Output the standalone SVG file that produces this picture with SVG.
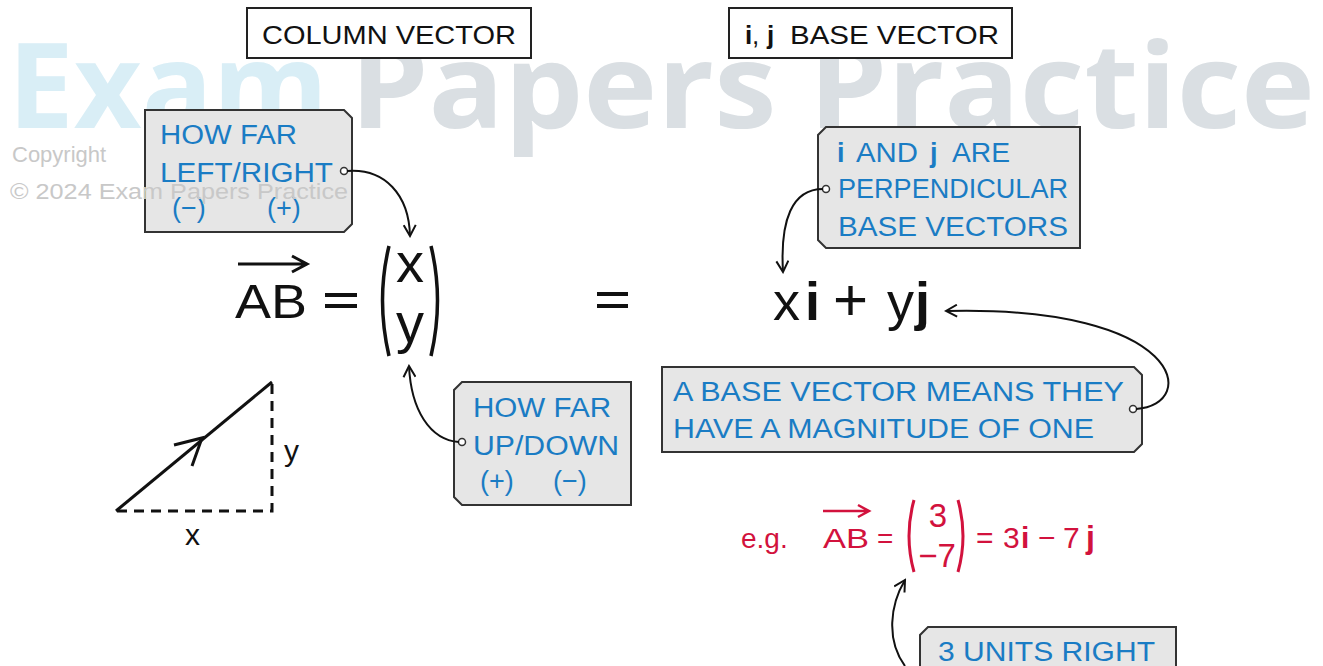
<svg xmlns="http://www.w3.org/2000/svg" width="1323" height="666" viewBox="0 0 1323 666">
<defs>
<marker id="ah" markerWidth="14" markerHeight="14" refX="12" refY="7" orient="auto" markerUnits="userSpaceOnUse">
<path d="M1,1 L12,7 L1,13" fill="none" stroke="#111" stroke-width="2"/>
</marker>
<style>
.wm{font-family:"Open Sans","Liberation Sans",sans-serif;font-weight:bold;font-size:118px}
.cp{font-family:"Liberation Sans",sans-serif;font-size:22px;fill:#c8c8c8}
.hd{font-family:"Liberation Sans",sans-serif;font-size:26px;fill:#111}
.tag{fill:#e6e6e6;stroke:#333;stroke-width:2}
.bt{font-family:"Liberation Sans",sans-serif;font-size:27px;fill:#1a7cc4}
.eq{font-family:"Liberation Sans",sans-serif;font-size:48px;fill:#111}
.red{font-family:"Liberation Sans",sans-serif;font-size:28px;fill:#d2123d}
.b{font-weight:bold}
.con{fill:none;stroke:#111;stroke-width:2}
.dot{fill:#fff;stroke:#333;stroke-width:1.5}
</style>
</defs>
<rect width="1323" height="666" fill="#fff"/>
<g id="watermark">
<text class="wm" x="8" y="128" fill="#d9eef6" textLength="320" lengthAdjust="spacingAndGlyphs">Exam</text>
<text class="wm" x="350" y="128" fill="#dadfe3" textLength="965" lengthAdjust="spacingAndGlyphs">Papers Practice</text>
</g>
<g id="title-column">
<rect x="247" y="8" width="284" height="50" fill="#fff" stroke="#222" stroke-width="2"/>
<text class="hd" x="262" y="44" textLength="254" lengthAdjust="spacingAndGlyphs">COLUMN VECTOR</text>
</g>
<g id="title-base">
<rect x="729" y="8" width="283" height="50" fill="#fff" stroke="#222" stroke-width="2"/>
<text class="hd b" x="745" y="44">i</text>
<text class="hd" x="752" y="44">,</text>
<text class="hd b" x="767" y="44">j</text>
<text class="hd" x="790" y="44" textLength="209" lengthAdjust="spacingAndGlyphs">BASE VECTOR</text>
</g>
<g id="note-leftright">
<path class="tag" d="M145,110 L344,110 L352,118 L352,224 L344,232 L145,232 Z"/>
<text class="bt" x="160" y="144" textLength="137" lengthAdjust="spacingAndGlyphs">HOW FAR</text>
<text class="bt" x="160" y="182" textLength="173" lengthAdjust="spacingAndGlyphs">LEFT/RIGHT</text>
<text class="bt" x="172" y="217">(−)</text>
<text class="bt" x="267" y="217">(+)</text>
<circle class="dot" cx="344" cy="171" r="3.5"/>
</g>
<g id="note-updown">
<path class="tag" d="M462,382 L631,382 L631,505 L462,505 L454,497 L454,390 Z"/>
<text class="bt" x="473" y="417" textLength="138" lengthAdjust="spacingAndGlyphs">HOW FAR</text>
<text class="bt" x="473" y="455" textLength="146" lengthAdjust="spacingAndGlyphs">UP/DOWN</text>
<text class="bt" x="480" y="490">(+)</text>
<text class="bt" x="553" y="490">(−)</text>
<circle class="dot" cx="462" cy="442" r="3.5"/>
</g>
<g id="note-perp">
<path class="tag" d="M826,127 L1080,127 L1080,248 L826,248 L818,240 L818,135 Z"/>
<text class="bt b" x="837" y="162">i</text>
<text class="bt" x="856" y="162" textLength="62" lengthAdjust="spacingAndGlyphs">AND</text>
<text class="bt b" x="930" y="162">j</text>
<text class="bt" x="952" y="162" textLength="58" lengthAdjust="spacingAndGlyphs">ARE</text>
<text class="bt" x="838" y="198" textLength="230" lengthAdjust="spacingAndGlyphs">PERPENDICULAR</text>
<text class="bt" x="838" y="236" textLength="230" lengthAdjust="spacingAndGlyphs">BASE VECTORS</text>
<circle class="dot" cx="826" cy="189" r="3.5"/>
</g>
<g id="note-magnitude">
<path class="tag" d="M662,367 L1134,367 L1142,375 L1142,444 L1134,452 L662,452 Z"/>
<text class="bt" x="673" y="401" textLength="451" lengthAdjust="spacingAndGlyphs">A  BASE VECTOR MEANS THEY</text>
<text class="bt" x="673" y="438" textLength="421" lengthAdjust="spacingAndGlyphs">HAVE A MAGNITUDE OF ONE</text>
<circle class="dot" cx="1133" cy="409" r="3.5"/>
</g>
<g id="note-units">
<path class="tag" d="M928,627 L1176,627 L1176,680 L920,680 L920,635 Z"/>
<text class="bt" x="938" y="661" textLength="217" lengthAdjust="spacingAndGlyphs">3 UNITS RIGHT</text>
</g>
<g id="copyright">
<text class="cp" x="12" y="162">Copyright</text>
<text class="cp" x="10" y="199" textLength="338" lengthAdjust="spacingAndGlyphs">© 2024 Exam Papers Practice</text>
</g>
<g id="equation-column">
<path d="M238,264 L306,264 M292,256 L307,264 L292,272" fill="none" stroke="#111" stroke-width="3"/>
<text class="eq" x="235" y="318" textLength="72" lengthAdjust="spacingAndGlyphs">AB</text>
<path d="M325,295 L357,295 M325,306 L357,306" stroke="#111" stroke-width="4"/>
<path d="M389,246 Q376,300 389,356" fill="none" stroke="#111" stroke-width="3.5"/>
<path d="M431,246 Q444,300 431,356" fill="none" stroke="#111" stroke-width="3.5"/>
<text class="eq" style="font-size:56px" x="410" y="282" text-anchor="middle">x</text>
<text class="eq" style="font-size:56px" x="410" y="342" text-anchor="middle">y</text>
</g>
<g id="equals-mid">
<path d="M597,294 L628,294 M597,306 L628,306" stroke="#111" stroke-width="4"/>
</g>
<g id="equation-base">
<text class="eq" style="font-size:54px" x="773" y="320">x</text>
<text class="eq b" style="font-size:54px" x="805" y="320">i</text>
<text class="eq" style="font-size:60px" x="833" y="320">+</text>
<text class="eq" style="font-size:54px" x="887" y="320">y</text>
<text class="eq b" style="font-size:54px" x="915" y="320">j</text>
</g>
<g id="triangle">
<path d="M116,511 L272,382" stroke="#111" stroke-width="3" fill="none"/>
<path d="M174,445 L202,438 L192,466" stroke="#111" stroke-width="3" fill="none"/>
<path d="M272,384 L272,511 L116,511" stroke="#111" stroke-width="3" fill="none" stroke-dasharray="10,7"/>
<text class="eq" style="font-size:30px" x="284" y="461">y</text>
<text class="eq" style="font-size:30px" x="185" y="545">x</text>
</g>
<g id="example">
<text class="red" x="741" y="548">e.g.</text>
<path d="M823,511 L868,511 M858,505 L869,511 L858,517" fill="none" stroke="#d2123d" stroke-width="2.5"/>
<text class="red" x="823" y="548" textLength="46" lengthAdjust="spacingAndGlyphs">AB</text>
<text class="red" x="877" y="548">=</text>
<path d="M914,500 Q904,536 914,572" fill="none" stroke="#d2123d" stroke-width="3"/>
<path d="M958,500 Q968,536 958,572" fill="none" stroke="#d2123d" stroke-width="3"/>
<text class="red" style="font-size:33px" x="938" y="527" text-anchor="middle">3</text>
<text class="red" style="font-size:33px" x="937" y="567" text-anchor="middle">−7</text>
<text class="red" style="font-size:30px" x="976" y="548">=</text>
<text class="red" style="font-size:30px" x="1003" y="548">3</text>
<text class="red b" style="font-size:30px" x="1021" y="548">i</text>
<text class="red" style="font-size:30px" x="1038" y="548">−</text>
<text class="red" style="font-size:30px" x="1063" y="548">7</text>
<text class="red b" style="font-size:32px" x="1086" y="548">j</text>
</g>
<g id="connectors">
<path class="con" d="M347,171 C385,168 409,195 410,236" marker-end="url(#ah)"/>
<path class="con" d="M459,442 C430,440 411,410 409,366" marker-end="url(#ah)"/>
<path class="con" d="M823,189 C792,189 780,220 783,272" marker-end="url(#ah)"/>
<path class="con" d="M1136,409 C1200,405 1185,305 946,311" marker-end="url(#ah)"/>
<path class="con" d="M905,666 C886,640 890,605 905,580" marker-end="url(#ah)"/>
</g>
</svg>
